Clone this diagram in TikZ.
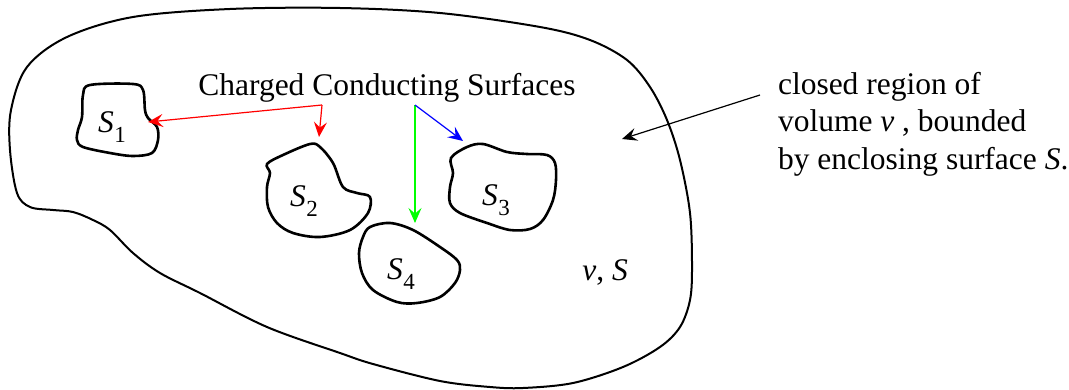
\documentclass[tikz,border=0pt]{standalone}
\usepackage{fontspec}
\setmainfont{Liberation Serif}
\usetikzlibrary{arrows.meta}
\newcommand\SurfSub[1]{\textit{S}\kern0.01em\raisebox{-0.3em}{\fontsize{11.5}{11.5}\selectfont #1}}
\begin{document}
\begin{tikzpicture}[x=0.5pt,y=-0.5pt,
  outer/.style={line width=1pt, line join=round},
  surf/.style={line width=1.3pt, line join=round},
  lbl/.style={font=\fontsize{15.75}{18.75}\selectfont, inner sep=0pt, outer sep=0pt},
  conn/.style={line width=0.6pt, -{Stealth[length=7.5pt,width=6.5pt,inset=2.8pt]}}]
\useasboundingbox (0,0) rectangle (1069,390);

% enclosing surface S
\draw[outer] plot[smooth cycle, tension=0.55] coordinates {
 (340,8) (440,13) (540,27) (590,40) (627,60) (650,87) (667,120) (680,160)
 (690,213) (692,267) (690,300) (680,327) (660,347) (623,367) (573,383)
 (523,388) (490,387) (440,381) (373,364) (340,353) (267,327) (200,293)
 (160,273) (133,253) (110,230) (93,220) (73,212) (53,210) (30,207) (17,193)
 (10,150) (11,110) (27,67) (67,37) (133,17) (230,9)};

% S1
\draw[surf] plot[smooth cycle, tension=0.55] coordinates {
 (90,85) (133,84) (143,90) (145,110) (148,118) (157,127) (158,140) (152,153)
 (133,156) (110,153) (83,147) (77,140) (78,130) (82,117) (83,95)};
% S2
\draw[surf] plot[smooth cycle, tension=0.55] coordinates {
 (283,155) (310,144) (320,147) (333,163) (343,187) (357,193) (370,197)
 (368,213) (350,230) (320,237) (293,233) (277,223) (268,207) (267,187)
 (270,173) (267,164)};
% S3
\draw[surf] plot[smooth cycle, tension=0.55] coordinates {
 (467,147) (483,144) (507,152) (527,154) (547,155) (555,163) (556,180)
 (553,200) (543,220) (530,229) (510,230) (487,223) (460,213) (450,203)
 (450,187) (453,173) (451,158)};
% S4
\draw[surf] plot[smooth cycle, tension=0.55] coordinates {
 (370,227) (390,223) (413,230) (440,247) (457,260) (460,270) (455,283)
 (440,297) (417,303) (397,302) (373,290) (362,273) (359,253) (363,237)};

% labels
\node[lbl] (s1) at (112,127) {\SurfSub{1}};
\node[lbl] (s2) at (304,201) {\SurfSub{2}};
\node[lbl] (s3) at (496,200) {\SurfSub{3}};
\node[lbl] (s4) at (401,274) {\SurfSub{4}};
\node[lbl] (vs) at (605,272) {\textit{v}, \textit{S}};
\node[lbl, anchor=base] (ccs) at (387,96) {Charged Conducting Surfaces};
\node[lbl, anchor=north west, align=left] (reg) at (778,72)
 {closed region of\\volume \textit{v} , bounded\\by enclosing surface \textit{S}.};

% connectors
\coordinate (r0) at (322,105);
\coordinate (g0) at (415,105);
\coordinate (t1) at (148,122);
\coordinate (t2) at (319,137);
\coordinate (t3) at (463,141);
\coordinate (t4) at (415,223);
\coordinate (k0) at (760,95);
\coordinate (kt) at (622,139);
\draw[conn, red] (r0) -- (t1);
\draw[conn, red] (r0) -- (t2);
\draw[conn, green] (g0) -- (t4);
\draw[conn, blue] (g0) -- (t3);
\draw[conn, black] (k0) -- (kt);
\end{tikzpicture}
\end{document}
